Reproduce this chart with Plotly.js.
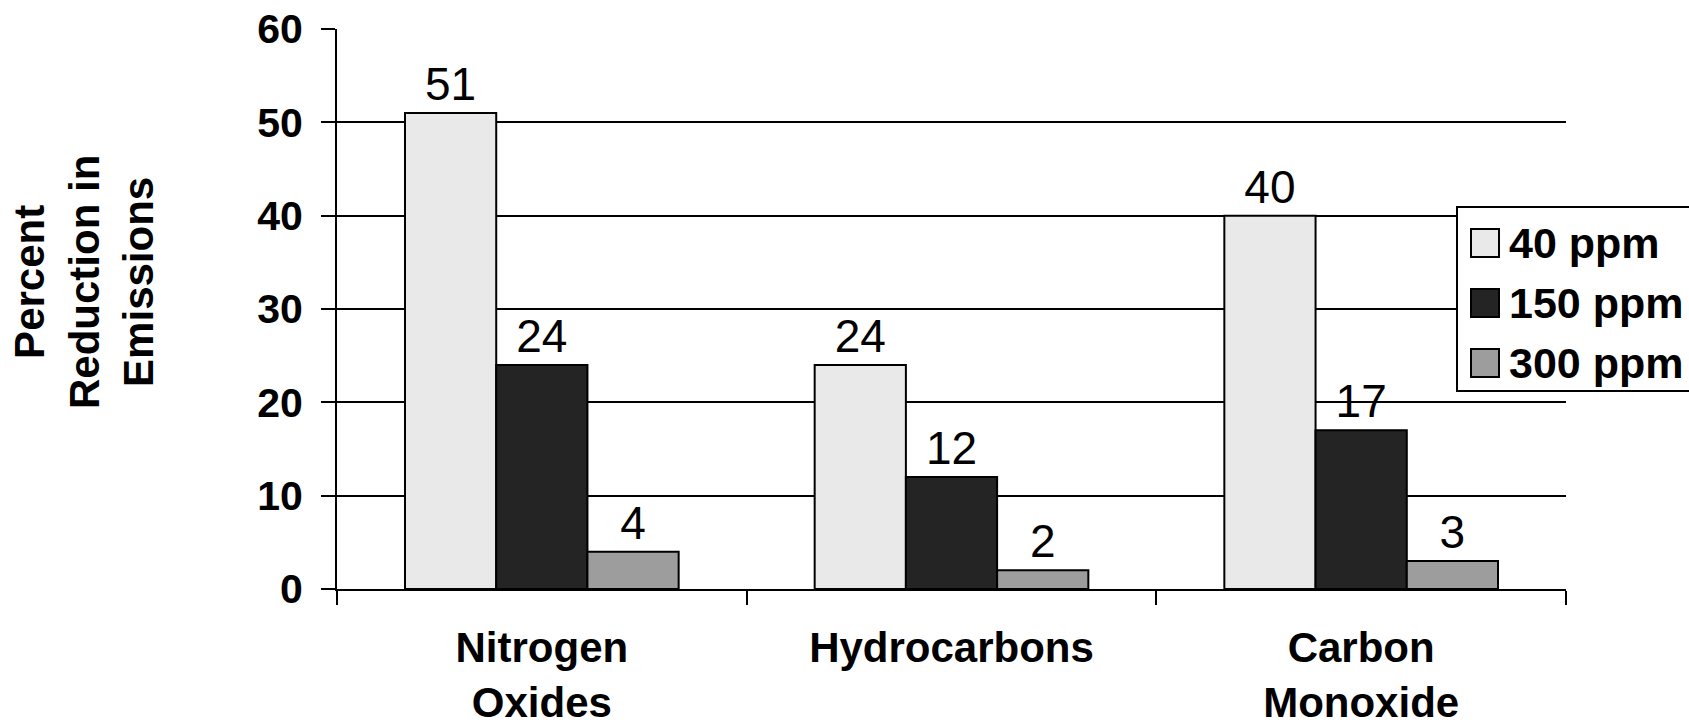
<!DOCTYPE html>
<html><head><meta charset="utf-8">
<script src="https://cdn.plot.ly/plotly-3.0.1.min.js"></script>
<style>html,body{margin:0;padding:0;background:#fff}#chart{width:1689px;height:726px}</style>
</head><body><div id="chart"></div>
<script>
// ---- data ----
const categories = ["Nitrogen<br>Oxides", "Hydrocarbons", "Carbon<br>Monoxide"];
const seriesNames = ["40 ppm", "150 ppm", "300 ppm"];
const ppm40 = [51, 24, 40];
const ppm150 = [24, 12, 17];
const ppm300 = [4, 2, 3];
const yTickVals = [0, 10, 20, 30, 40, 50, 60];
const yTitle = "Percent<br>Reduction in<br>Emissions";

// ---- style ----
const FONT = "Liberation Sans, Arial, Helvetica, sans-serif";
const fills = ["#e9e9e9", "#242424", "#9d9d9d"];
const W = 1689, H = 726;
const L = 337, R = 1566, T = 29, B = 589;
const xp = px => (px - L) / (R - L);
const yp = py => (B - py) / (B - T);

const seriesValues = [ppm40, ppm150, ppm300];
const traces = seriesValues.map((vals, i) => ({
  type: "bar",
  name: seriesNames[i],
  x: categories,
  y: vals,
  text: vals.map(String),
  textposition: "outside",
  cliponaxis: false,
  constraintext: "none",
  textfont: {family: FONT, size: 46, color: "#000"},
  outsidetextfont: {family: FONT, size: 46, color: "#000"},
  marker: {color: fills[i], line: {color: "#000", width: 2}},
  hoverinfo: "none"
}));

const shapes = [{
  type: "rect", xref: "paper", yref: "paper",
  x0: xp(1457), x1: xp(1730), y0: yp(391), y1: yp(207),
  line: {color: "#000", width: 2}, fillcolor: "#fff", layer: "above"
}];
const annotations = [];
const rowY = [243, 303, 363];
seriesNames.forEach((nm, i) => {
  shapes.push({
    type: "rect", xref: "paper", yref: "paper",
    x0: xp(1471), x1: xp(1499), y0: yp(rowY[i] + 14), y1: yp(rowY[i] - 14),
    line: {color: "#000", width: 2}, fillcolor: fills[i], layer: "above"
  });
  annotations.push({
    xref: "paper", yref: "paper", x: xp(1507), y: yp(rowY[i]),
    xanchor: "left", yanchor: "middle", showarrow: false, text: nm,
    font: {family: FONT, size: 43, color: "#000", weight: "bold"}
  });
});
annotations.push({
  xref: "paper", yref: "paper", x: xp(84), y: yp(282),
  xanchor: "center", yanchor: "middle", showarrow: false, textangle: -90,
  text: yTitle, font: {family: FONT, size: 42, color: "#000", weight: "bold"}
});

const layout = {
  width: W, height: H,
  margin: {l: L, r: W - R, t: T, b: H - B, pad: 0},
  paper_bgcolor: "#fff", plot_bgcolor: "#fff",
  barmode: "group", bargap: 0.332, bargroupgap: 0,
  showlegend: false,
  font: {family: FONT, color: "#000"},
  xaxis: {
    type: "category", tickson: "boundaries",
    ticks: "outside", ticklen: 14, tickwidth: 2, tickcolor: "#000",
    showline: true, linewidth: 2, linecolor: "#000",
    showgrid: false, zeroline: false,
    tickfont: {family: FONT, size: 42, color: "#000", weight: "bold"},
    ticklabelstandoff: 21
  },
  yaxis: {
    range: [0, 60], tickvals: yTickVals, ticktext: yTickVals.map(String),
    ticks: "outside", ticklen: 14, tickwidth: 2, tickcolor: "#000",
    showline: true, linewidth: 2, linecolor: "#000",
    showgrid: true, gridcolor: "#000", gridwidth: 2, zeroline: false,
    tickfont: {family: FONT, size: 41, color: "#000", weight: "bold"},
    ticklabelstandoff: 10
  },
  shapes: shapes,
  annotations: annotations
};

Plotly.newPlot("chart", traces, layout, {displayModeBar: false, staticPlot: true});
</script>
</body></html>
